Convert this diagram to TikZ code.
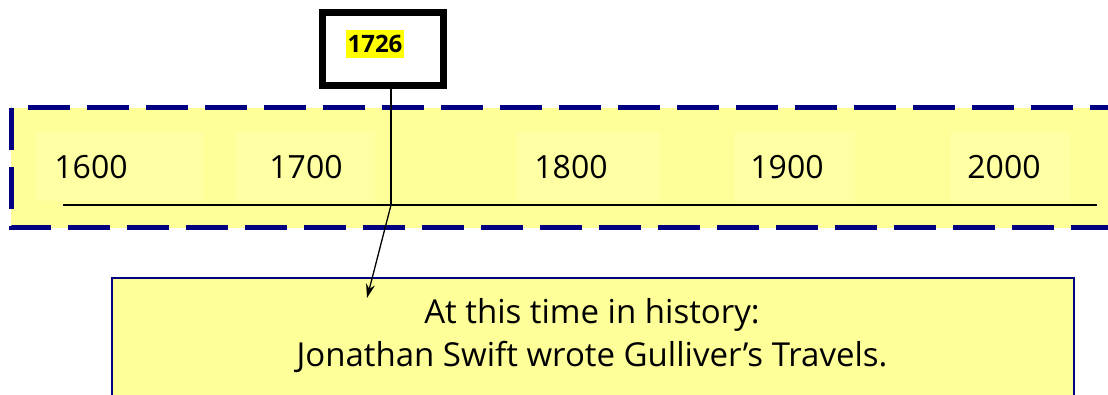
\documentclass[tikz,border=0pt]{standalone}
\usepackage{fontspec}
\setmainfont{Open Sans}
\usetikzlibrary{arrows.meta}
\definecolor{bandyellow}{HTML}{FFFF99}
\definecolor{boxyellow}{HTML}{FFFFA4}
\definecolor{navy}{HTML}{000080}
\definecolor{hl}{HTML}{FFFF00}
\tikzset{
  yearbg/.style={fill=boxyellow, inner sep=0pt, minimum height=69pt},
  yeartext/.style={font=\fontsize{32}{38}\selectfont},
  band/.style={fill=bandyellow, draw=navy, line width=5pt, dash pattern=on 42pt off 17pt},
  infobox/.style={fill=bandyellow, draw=navy, line width=1.8pt},
  markbox/.style={draw=black, line width=7pt, fill=white, minimum width=121pt, minimum height=73pt},
  hltext/.style={fill=hl, inner xsep=1.5pt, inner ysep=5pt, font=\bfseries\fontsize{24}{28}\selectfont},
  connector/.style={line width=1.3pt, black},
}
\begin{document}
\begin{tikzpicture}[x=1pt,y=-1pt]
\useasboundingbox (0,0) rectangle (1108,395);
\clip (0,0) rectangle (1108,395);
% band
\draw[band] (11,108) rectangle (1130,228);
% year labels with light boxes
\node[yearbg, minimum width=168pt] (y1600) at (119,167) {};
\node[yeartext] (t1600) at (91,167) {1600};
\node[yearbg, minimum width=140pt] (y1700) at (305,167) {};
\node[yeartext] (t1700) at (306,167) {1700};
\node[yearbg, minimum width=143pt] (y1800) at (588,167) {};
\node[yeartext] (t1800) at (571,167) {1800};
\node[yearbg, minimum width=121pt] (y1900) at (794,167) {};
\node[yeartext] (t1900) at (787,167) {1900};
\node[yearbg, minimum width=120pt] (y2000) at (1010,167) {};
\node[yeartext] (t2000) at (1004,167) {2000};
% axis
\coordinate (axL) at (63,205);
\coordinate (axR) at (1097,205);
\coordinate (join) at (391,205);
\draw[line width=1.3pt] (axL) -- (axR);
% info box
\node[infobox, minimum width=962pt, minimum height=150pt, anchor=north west, inner sep=0pt] (info) at (111,277) {};
\node[align=center, font=\fontsize{33}{43}\selectfont] (infotext) at (592,336) {At this time in history:\\Jonathan Swift wrote Gulliver’s Travels.};
% marker box
\node[markbox] (mark) at (383,49) {};
\node[hltext] (yr) at (375,44) {1726};
% connectors
\coordinate (tip) at (367,298);
\draw[connector] (mark.south -| join) -- (join);
\draw[connector, -{Stealth[length=14pt,width=9pt]}] (join) -- (tip);
\end{tikzpicture}
\end{document}
